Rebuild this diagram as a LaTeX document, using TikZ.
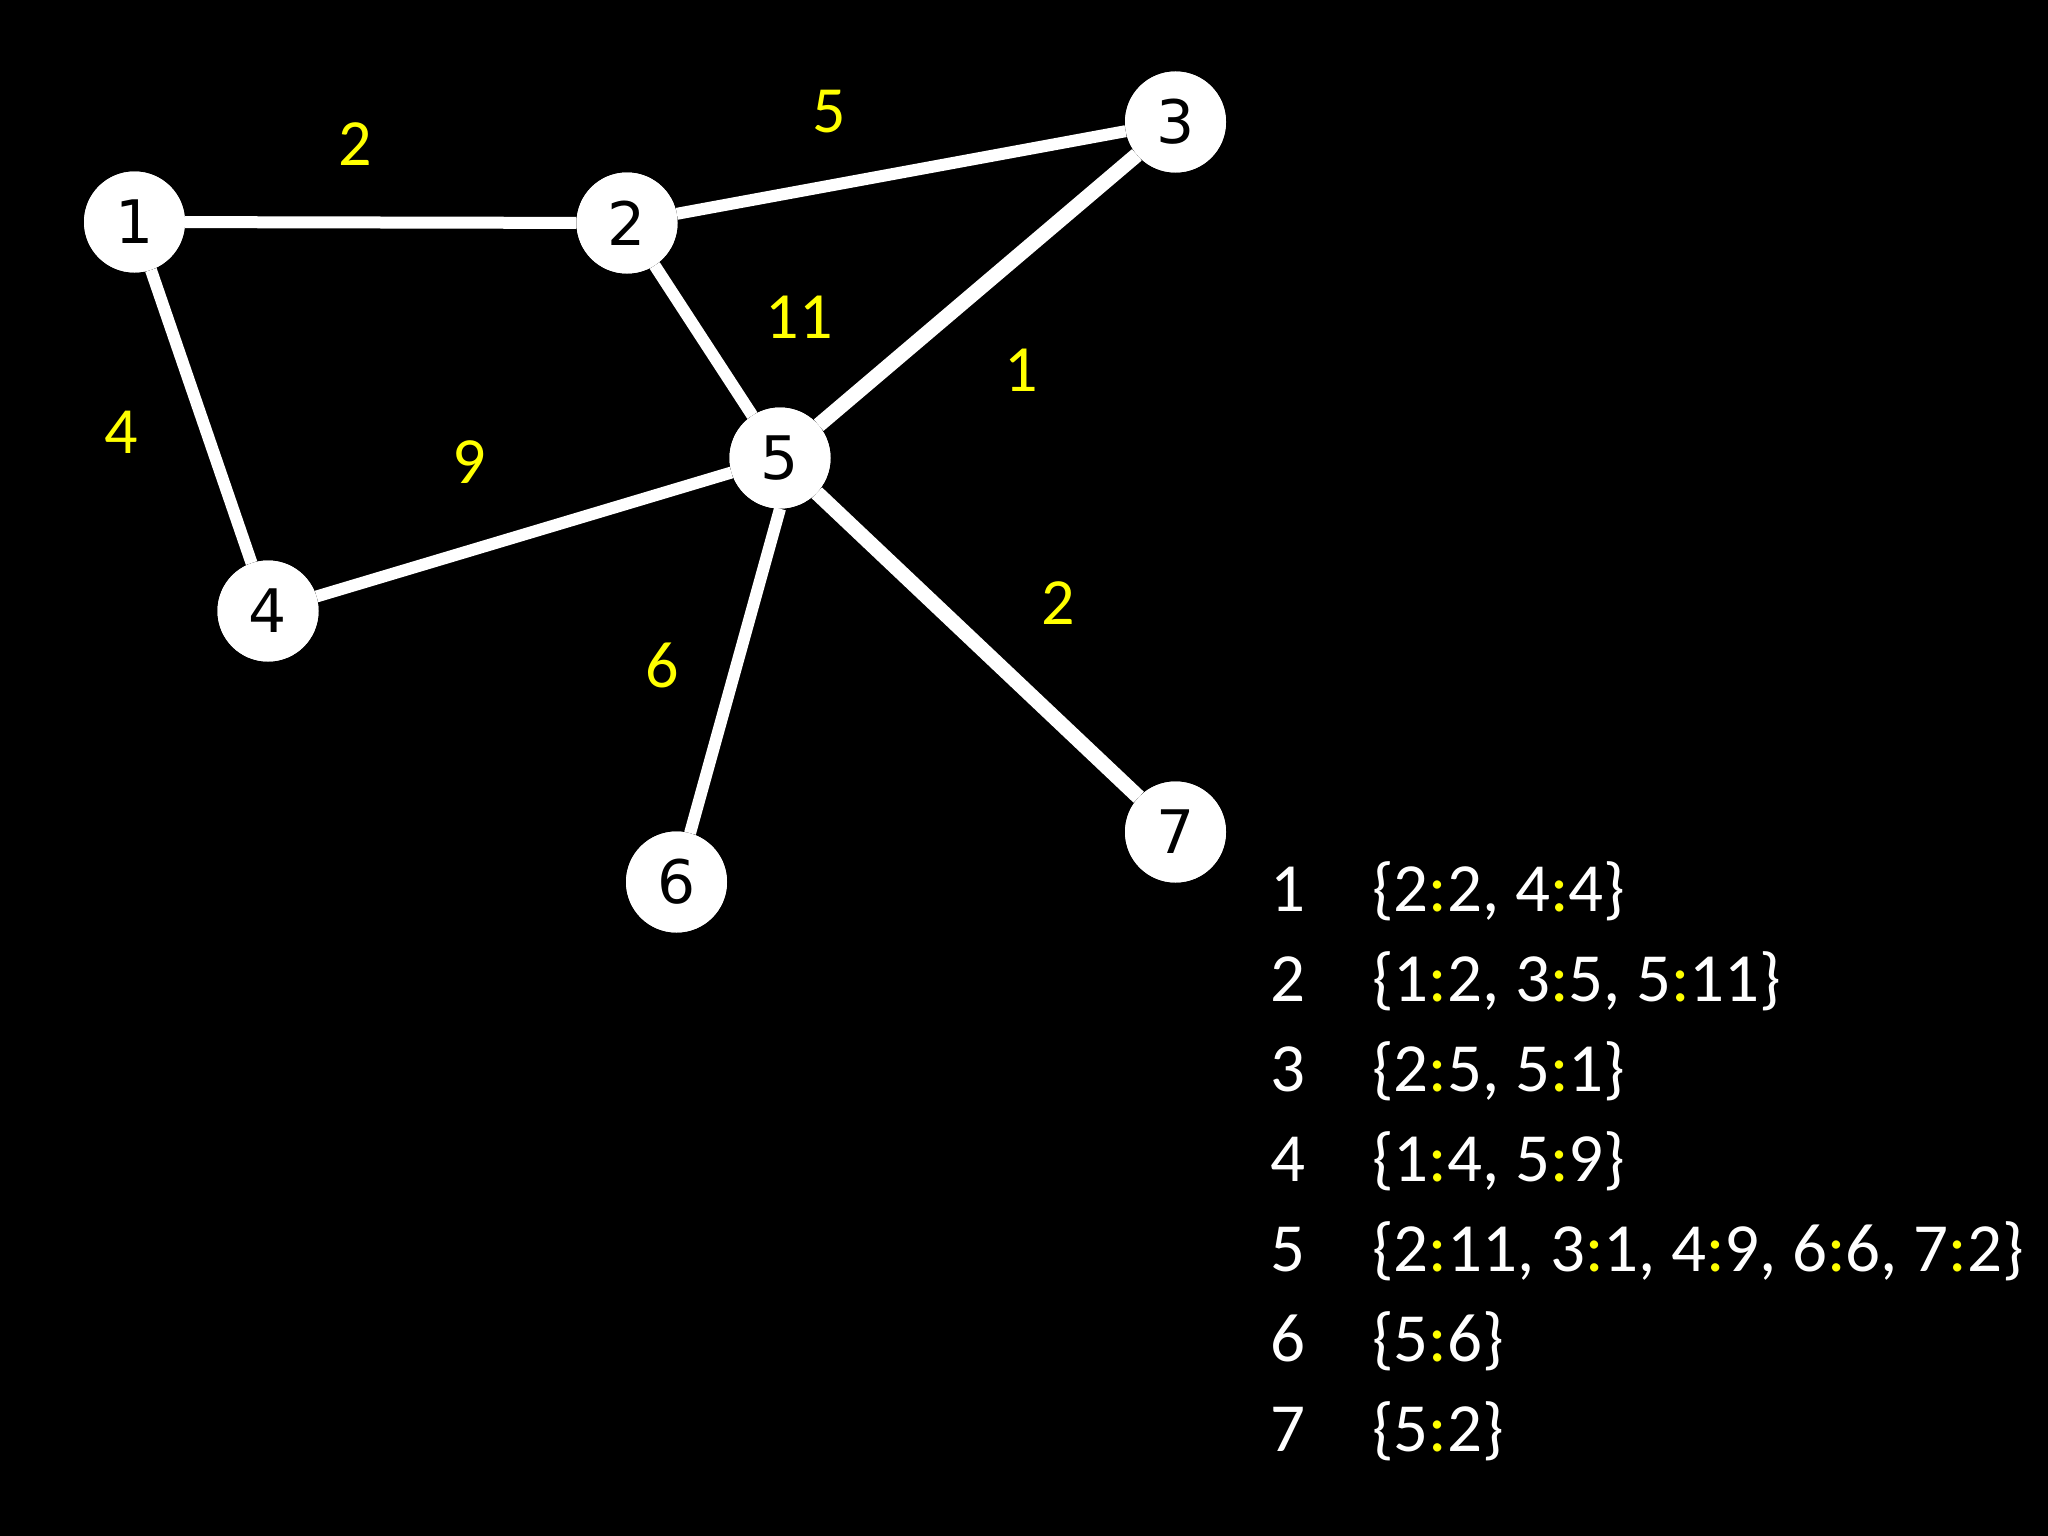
\documentclass[tikz,border=0pt]{standalone}
\usepackage{fontspec}
\setmainfont{Carlito}
\newfontfamily\nodefont{DejaVu Sans}
\definecolor{lab}{RGB}{255,255,0}
\begin{document}
\begin{tikzpicture}[x=1pt,y=-1pt,
  vtx/.style={circle,fill=white,minimum size=101pt,inner sep=0pt,font=\nodefont\fontsize{60}{64}\selectfont,text=black},
  edge/.style={draw=white,line width=12pt},
  thick edge/.style={draw=white,line width=15pt},
  wlab/.style={text=lab,font=\fontsize{66}{70}\selectfont,inner sep=0pt},
  leg/.style={text=white,font=\fontsize{69}{74}\selectfont,anchor=base west,inner sep=0pt}]
\fill[black] (0,0) rectangle (2048,1536);
\useasboundingbox (0,0) rectangle (2048,1536);
\coordinate (p1) at (134.5,222);
\coordinate (p2) at (627,223);
\coordinate (p3) at (1175.5,122);
\coordinate (p4) at (268,611);
\coordinate (p5) at (780,458);
\coordinate (p6) at (676.5,882);
\coordinate (p7) at (1175.5,832);
\path (p1) node[vtx] (n1) {1};
\path (p2) node[vtx] (n2) {2};
\path (p3) node[vtx] (n3) {3};
\path (p4) node[vtx] (n4) {4};
\path (p5) node[vtx] (n5) {5};
\path (p6) node[vtx] (n6) {6};
\path (p7) node[vtx] (n7) {7};
\path[edge] (n1) -- (n2);
\path[edge] (n2) -- (n3);
\path[edge] (n1) -- (n4);
\path[edge] (n2) -- (n5);
\path[thick edge] (n3) -- (n5);
\path[edge] (n4) -- (n5);
\path[edge] (n5.south) -- (n6);
\path[thick edge] (n5) -- (n7);
\foreach \i in {1,...,7} {\path (p\i) node[vtx] {\i};}
\node[wlab] (w12) at (355,144) {2};
\node[wlab] (w23) at (829,112) {5};
\node[wlab] (w25) at (799,317) {11};
\node[wlab] (w35) at (1021,370) {1};
\node[wlab] (w14) at (121,432) {4};
\node[wlab] (w45) at (469,462) {9};
\node[wlab] (w56) at (662,665) {6};
\node[wlab] (w57) at (1058,603) {2};
\newcommand{\cl}{\textcolor{lab}{:}}
\node[leg] (k1) at (1270,911) {1};
\node[leg] (l1) at (1372,911) {\{2\cl2, 4\cl4\}};
\node[leg] (k2) at (1270,1001) {2};
\node[leg] (l2) at (1372,1001) {\{1\cl2, 3\cl5, 5\cl11\}};
\node[leg] (k3) at (1270,1091) {3};
\node[leg] (l3) at (1372,1091) {\{2\cl5, 5\cl1\}};
\node[leg] (k4) at (1270,1181) {4};
\node[leg] (l4) at (1372,1181) {\{1\cl4, 5\cl9\}};
\node[leg] (k5) at (1270,1271) {5};
\node[leg] (l5) at (1372,1271) {\{2\cl11, 3\cl1, 4\cl9, 6\cl6, 7\cl2\}};
\node[leg] (k6) at (1270,1361) {6};
\node[leg] (l6) at (1372,1361) {\{5\cl6\}};
\node[leg] (k7) at (1270,1451) {7};
\node[leg] (l7) at (1372,1451) {\{5\cl2\}};
\end{tikzpicture}
\end{document}
